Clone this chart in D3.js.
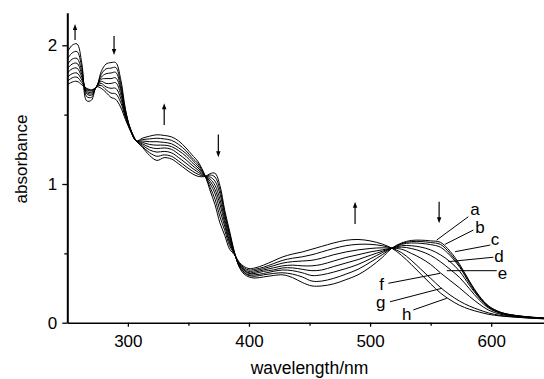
<!DOCTYPE html>
<html>
<head>
<meta charset="utf-8">
<script src="https://cdn.jsdelivr.net/npm/d3@7"></script>
<style>
body { margin: 0; background: #fff; }
svg { display: block; }
text { font-family: "Liberation Sans", Arial, sans-serif; fill: #000; }
</style>
</head>
<body>
<svg id="chart" width="544" height="379"></svg>
<script>
// wavelength grid (nm) shared by all spectra
const wavelengths = [250, 254, 258, 262, 266, 270, 274, 278, 282, 286, 290, 294, 298, 302, 307,
    312, 318, 324, 330, 336, 342, 348, 353, 358, 364,
    368, 372, 376, 380, 384, 388, 392, 396, 400, 405,
    412, 420, 428, 436, 444, 452, 460, 470, 480, 490, 500, 510, 518,
    526, 534, 542, 550, 558, 566, 574, 582, 590, 598, 608, 620, 634, 648];

const specA = [1.715, 1.735, 1.74, 1.715, 1.69, 1.68, 1.70, 1.81, 1.865, 1.875, 1.875, 1.76, 1.54, 1.40, 1.31,
    1.265, 1.205, 1.17, 1.19, 1.18, 1.145, 1.105, 1.075, 1.055, 1.055,
    1.075, 1.077, 0.99, 0.81, 0.66, 0.51, 0.40, 0.35, 0.33, 0.322,
    0.33, 0.34, 0.345, 0.325, 0.29, 0.265, 0.265, 0.28, 0.31, 0.345, 0.40, 0.47, 0.537,
    0.575, 0.593, 0.595, 0.59, 0.58, 0.515, 0.42, 0.30, 0.195, 0.12, 0.075, 0.053, 0.04, 0.032];
const specB = [1.74, 1.765, 1.77, 1.73, 1.685, 1.675, 1.70, 1.79, 1.83, 1.835, 1.84, 1.73, 1.53, 1.40, 1.31,
    1.27, 1.225, 1.20, 1.21, 1.20, 1.165, 1.125, 1.095, 1.07, 1.055,
    1.065, 1.05, 0.96, 0.79, 0.645, 0.505, 0.405, 0.36, 0.34, 0.335,
    0.345, 0.355, 0.36, 0.35, 0.33, 0.30, 0.30, 0.32, 0.35, 0.385, 0.435, 0.49, 0.537,
    0.57, 0.585, 0.585, 0.578, 0.565, 0.50, 0.41, 0.295, 0.19, 0.118, 0.073, 0.052, 0.039, 0.031];
const specC = [1.77, 1.795, 1.80, 1.75, 1.68, 1.67, 1.70, 1.77, 1.795, 1.80, 1.805, 1.70, 1.52, 1.40, 1.31,
    1.28, 1.245, 1.23, 1.235, 1.225, 1.19, 1.15, 1.115, 1.085, 1.055,
    1.05, 1.02, 0.93, 0.77, 0.63, 0.50, 0.41, 0.365, 0.345, 0.345,
    0.355, 0.37, 0.38, 0.375, 0.36, 0.34, 0.345, 0.365, 0.39, 0.42, 0.46, 0.505, 0.537,
    0.565, 0.575, 0.572, 0.563, 0.545, 0.485, 0.40, 0.285, 0.185, 0.114, 0.071, 0.051, 0.038, 0.030];
const specD = [1.80, 1.83, 1.835, 1.77, 1.67, 1.66, 1.70, 1.755, 1.76, 1.76, 1.765, 1.68, 1.51, 1.395, 1.31,
    1.29, 1.265, 1.255, 1.26, 1.25, 1.215, 1.175, 1.135, 1.10, 1.055,
    1.035, 0.99, 0.89, 0.745, 0.61, 0.50, 0.415, 0.375, 0.355, 0.355,
    0.37, 0.38, 0.395, 0.395, 0.385, 0.375, 0.38, 0.405, 0.43, 0.455, 0.485, 0.515, 0.537,
    0.555, 0.555, 0.545, 0.525, 0.49, 0.44, 0.37, 0.27, 0.18, 0.11, 0.069, 0.049, 0.037, 0.030];
const specE = [1.83, 1.865, 1.87, 1.79, 1.66, 1.65, 1.70, 1.74, 1.725, 1.725, 1.73, 1.65, 1.50, 1.395, 1.31,
    1.30, 1.285, 1.28, 1.28, 1.27, 1.24, 1.20, 1.155, 1.115, 1.055,
    1.02, 0.96, 0.855, 0.72, 0.59, 0.50, 0.42, 0.38, 0.36, 0.365,
    0.38, 0.395, 0.41, 0.415, 0.41, 0.41, 0.42, 0.445, 0.47, 0.49, 0.51, 0.525, 0.537,
    0.545, 0.535, 0.515, 0.485, 0.44, 0.385, 0.325, 0.245, 0.165, 0.105, 0.067, 0.047, 0.036, 0.029];
const specF = [1.86, 1.90, 1.905, 1.81, 1.65, 1.64, 1.70, 1.725, 1.70, 1.69, 1.69, 1.62, 1.49, 1.39, 1.31,
    1.31, 1.305, 1.305, 1.30, 1.29, 1.26, 1.22, 1.175, 1.13, 1.055,
    1.00, 0.93, 0.81, 0.695, 0.575, 0.495, 0.425, 0.385, 0.37, 0.375,
    0.39, 0.41, 0.43, 0.44, 0.445, 0.45, 0.465, 0.49, 0.51, 0.525, 0.535, 0.54, 0.537,
    0.53, 0.50, 0.465, 0.42, 0.36, 0.305, 0.25, 0.19, 0.135, 0.09, 0.06, 0.044, 0.034, 0.028];
const specG = [1.90, 1.945, 1.955, 1.84, 1.63, 1.625, 1.70, 1.71, 1.68, 1.655, 1.65, 1.59, 1.48, 1.39, 1.31,
    1.32, 1.325, 1.33, 1.325, 1.315, 1.285, 1.24, 1.19, 1.145, 1.055,
    0.975, 0.89, 0.765, 0.665, 0.555, 0.495, 0.43, 0.395, 0.38, 0.385,
    0.40, 0.425, 0.45, 0.465, 0.475, 0.49, 0.51, 0.535, 0.555, 0.565, 0.565, 0.555, 0.537,
    0.505, 0.45, 0.385, 0.32, 0.255, 0.20, 0.155, 0.12, 0.093, 0.07, 0.052, 0.041, 0.033, 0.027];
const specH = [1.95, 2.00, 2.01, 1.87, 1.60, 1.605, 1.70, 1.69, 1.66, 1.625, 1.61, 1.555, 1.465, 1.385, 1.31,
    1.33, 1.345, 1.355, 1.35, 1.34, 1.31, 1.26, 1.21, 1.16, 1.055,
    0.95, 0.85, 0.72, 0.63, 0.53, 0.49, 0.435, 0.405, 0.39, 0.395,
    0.415, 0.445, 0.475, 0.495, 0.51, 0.53, 0.55, 0.575, 0.594, 0.60, 0.59, 0.567, 0.537,
    0.485, 0.42, 0.35, 0.28, 0.215, 0.165, 0.125, 0.097, 0.077, 0.06, 0.048, 0.04, 0.032, 0.026];

const spectra = [specA, specB, specC, specD, specE, specF, specG, specH];

const xTicks = [300, 400, 500, 600];
const xMinorTicks = [350, 450, 550];
const yTicks = [0, 1, 2];
const yMinorTicks = [0.5, 1.5];

// arrows: wavelength, start absorbance, end absorbance (tip)
const arrows = [
    [256.4, 2.038, 2.154],
    [288.6, 2.067, 1.930],
    [330.0, 1.425, 1.582],
    [374.7, 1.357, 1.193],
    [487.6, 0.712, 0.872],
    [557.0, 0.872, 0.717]
];

// curve labels: letter, text x (nm), baseline (abs), leader from (nm, abs) to (nm, abs)
const labelNames = ["a", "b", "c", "d", "e", "f", "g", "h"];
const labelPos = [[586.6, 0.777], [590.8, 0.644], [603.2, 0.560], [606.4, 0.441], [609.3, 0.313], [509.6, 0.236], [508.8, 0.109], [530.3, 0.020]];
const leaders = [
    [[581.1, 0.764], [555.0, 0.596]],
    [[585.3, 0.668], [561.9, 0.565]],
    [[599.3, 0.560], [570.2, 0.512]],
    [[601.8, 0.472], [564.6, 0.440]],
    [[604.6, 0.375], [563.3, 0.375]],
    [[515.1, 0.284], [557.8, 0.356]],
    [[516.5, 0.151], [559.2, 0.248]],
    [[535.7, 0.092], [563.3, 0.176]]
];

const svg = d3.select("#chart");
const mLeft = 67.3, mRight = 544, mTop = 12.7, mBottom = 322.7;

const x = d3.scaleLinear().domain([250, 643.6]).range([mLeft, mRight]);
const y = d3.scaleLinear().domain([0, 2.235]).range([mBottom, mTop]);

svg.append("clipPath").attr("id", "plot")
    .append("rect").attr("x", mLeft).attr("y", 0).attr("width", mRight - mLeft).attr("height", mBottom);

const line = d3.line()
    .x(d => x(d[0]))
    .y(d => y(d[1]))
    .curve(d3.curveCatmullRom.alpha(0.5));

svg.append("g").attr("clip-path", "url(#plot)")
    .selectAll("path")
    .data(spectra)
    .join("path")
    .attr("d", s => line(wavelengths.map((w, i) => [w, s[i]])))
    .attr("fill", "none")
    .attr("stroke", "#000")
    .attr("stroke-width", 1);

// axes
const xAxis = svg.append("g")
    .attr("transform", `translate(0,${mBottom})`)
    .call(d3.axisBottom(x).tickValues(xTicks).tickSize(4).tickSizeOuter(0).tickPadding(8));
svg.append("g")
    .attr("transform", `translate(0,${mBottom})`)
    .call(d3.axisBottom(x).tickValues(xMinorTicks).tickSize(3).tickFormat(""))
    .call(g => g.select(".domain").remove());

const yAxis = svg.append("g")
    .attr("transform", `translate(${mLeft},0)`)
    .call(d3.axisLeft(y).tickValues(yTicks).tickSize(5).tickSizeOuter(0).tickPadding(5).tickFormat(d3.format("d")));
svg.append("g")
    .attr("transform", `translate(${mLeft},0)`)
    .call(d3.axisLeft(y).tickValues(yMinorTicks).tickSize(3).tickFormat(""))
    .call(g => g.select(".domain").remove());

svg.selectAll(".tick line").attr("stroke", "#000").attr("stroke-width", 1.3);
xAxis.select(".domain").attr("stroke", "#000").attr("stroke-width", 1.6);
yAxis.select(".domain").attr("stroke", "#000").attr("stroke-width", 2);
svg.selectAll(".tick text").attr("font-size", 17).attr("font-family", "'Liberation Sans', Arial, sans-serif").attr("fill", "#000");

svg.append("text")
    .attr("x", 309.5).attr("y", 374)
    .attr("text-anchor", "middle")
    .attr("font-size", 17.5)
    .text("wavelength/nm");

svg.append("text")
    .attr("transform", "translate(27,159) rotate(-90)")
    .attr("text-anchor", "middle")
    .attr("font-size", 17)
    .text("absorbance");

// arrows
const arrowG = svg.append("g");
arrows.forEach(([w, a0, a1]) => {
    const ax = x(w), y0 = y(a0), y1 = y(a1);
    const dir = y1 < y0 ? -1 : 1;
    arrowG.append("line")
        .attr("x1", ax).attr("x2", ax)
        .attr("y1", y0).attr("y2", y1 - dir * 5)
        .attr("stroke", "#000").attr("stroke-width", 1.2);
    arrowG.append("path")
        .attr("d", `M${ax},${y1} L${ax - 2.2},${y1 - dir * 6} L${ax + 2.2},${y1 - dir * 6} Z`)
        .attr("fill", "#000");
});

// labels with leader lines
const labG = svg.append("g");
labG.selectAll("line")
    .data(leaders)
    .join("line")
    .attr("x1", d => x(d[0][0])).attr("y1", d => y(d[0][1]))
    .attr("x2", d => x(d[1][0])).attr("y2", d => y(d[1][1]))
    .attr("stroke", "#000").attr("stroke-width", 1);
labG.selectAll("text")
    .data(labelNames)
    .join("text")
    .attr("x", (d, i) => x(labelPos[i][0]))
    .attr("y", (d, i) => y(labelPos[i][1]))
    .attr("text-anchor", "middle")
    .attr("font-size", 17)
    .text(d => d);
</script>
</body>
</html>
